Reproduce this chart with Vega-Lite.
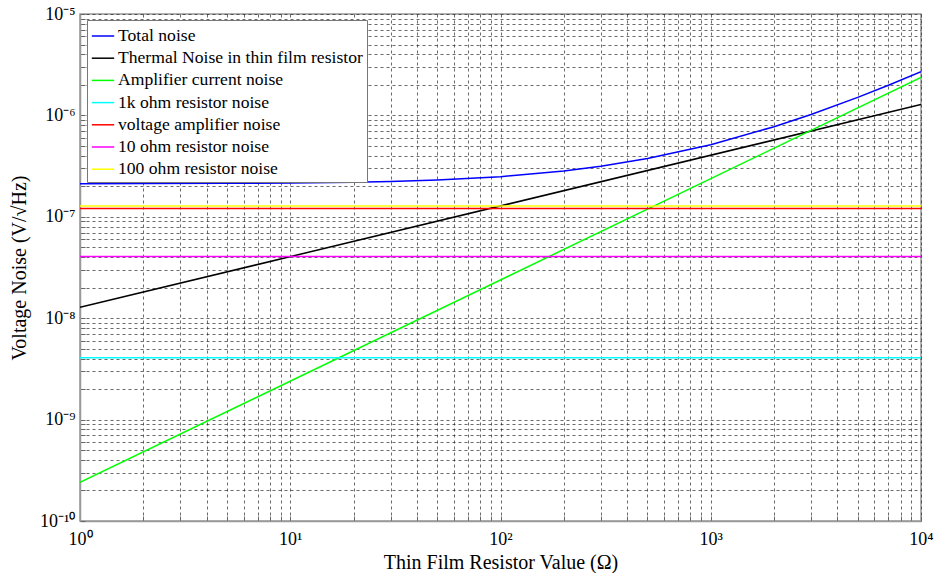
{
  "$schema": "https://vega.github.io/schema/vega-lite/v6.json",
  "width": 841,
  "height": 507,
  "autosize": {"type": "none"},
  "padding": {"left": 80, "top": 14, "right": 14, "bottom": 52},
  "background": "white",
  "config": {
    "font": "Liberation Serif",
    "view": {"stroke": "#999", "strokeWidth": 1.5}
  },
  "data": {
    "values": [
      {"series": "Total noise", "R": 1, "V": 2.123e-7},
      {"series": "Total noise", "R": 2, "V": 2.127e-7},
      {"series": "Total noise", "R": 5, "V": 2.138e-7},
      {"series": "Total noise", "R": 10, "V": 2.157e-7},
      {"series": "Total noise", "R": 20, "V": 2.195e-7},
      {"series": "Total noise", "R": 30, "V": 2.233e-7},
      {"series": "Total noise", "R": 50, "V": 2.307e-7},
      {"series": "Total noise", "R": 100, "V": 2.487e-7},
      {"series": "Total noise", "R": 200, "V": 2.827e-7},
      {"series": "Total noise", "R": 300, "V": 3.148e-7},
      {"series": "Total noise", "R": 500, "V": 3.753e-7},
      {"series": "Total noise", "R": 1000, "V": 5.147e-7},
      {"series": "Total noise", "R": 2000, "V": 7.729e-7},
      {"series": "Total noise", "R": 3000, "V": 1.021e-6},
      {"series": "Total noise", "R": 5000, "V": 1.506e-6},
      {"series": "Total noise", "R": 7000, "V": 1.986e-6},
      {"series": "Total noise", "R": 10000, "V": 2.702e-6},
      {"series": "Thermal Noise in thin film resistor", "R": 1, "V": 1.28e-8},
      {"series": "Thermal Noise in thin film resistor", "R": 10000, "V": 1.28e-6},
      {"series": "Amplifier current noise", "R": 1, "V": 2.4e-10},
      {"series": "Amplifier current noise", "R": 10000, "V": 2.37e-6},
      {"series": "1k ohm resistor noise", "R": 1, "V": 4.07e-9},
      {"series": "1k ohm resistor noise", "R": 10000, "V": 4.07e-9},
      {"series": "voltage amplifier noise", "R": 1, "V": 1.21e-7},
      {"series": "voltage amplifier noise", "R": 10000, "V": 1.21e-7},
      {"series": "10 ohm resistor noise", "R": 1, "V": 4.05e-8},
      {"series": "10 ohm resistor noise", "R": 10000, "V": 4.05e-8},
      {"series": "100 ohm resistor noise", "R": 1, "V": 1.28e-7},
      {"series": "100 ohm resistor noise", "R": 10000, "V": 1.28e-7}
    ]
  },
  "mark": {"type": "line", "strokeWidth": 1.5, "clip": true},
  "encoding": {
    "x": {
      "field": "R",
      "type": "quantitative",
      "scale": {"type": "log", "domain": [1, 10000], "nice": false},
      "axis": {
        "title": "Thin Film Resistor Value (Ω)",
        "titleFont": "Liberation Serif",
        "titleFontSize": 20,
        "titleFontWeight": "normal",
        "titleColor": "black",
        "titlePadding": 4,
        "values": [1,2,3,4,5,6,7,8,9,10,20,30,40,50,60,70,80,90,100,200,300,400,500,600,700,800,900,1000,2000,3000,4000,5000,6000,7000,8000,9000,10000],
        "labelExpr": "abs(log(datum.value)/LN10 - round(log(datum.value)/LN10)) < 0.001 ? ['10⁰','10¹','10²','10³','10⁴'][round(log(datum.value)/LN10)] : ''",
        "labelFont": "Liberation Serif",
        "labelFontSize": 18,
        "labelColor": "black",
        "labelPadding": 14,
        "labelOverlap": false,
        "labelFlush": false,
        "grid": true,
        "gridColor": "#222",
        "gridOpacity": 0.85,
        "gridDash": [3, 3],
        "gridWidth": 0.8,
        "ticks": true,
        "tickSize": -5,
        "tickColor": "#666",
        "domainColor": "#999",
        "domainWidth": 1.5
      }
    },
    "y": {
      "field": "V",
      "type": "quantitative",
      "scale": {"type": "log", "domain": [1e-10, 1e-5], "nice": false},
      "axis": {
        "title": "Voltage Noise (V/√Hz)",
        "titleFont": "Liberation Serif",
        "titleFontSize": 20,
        "titleFontWeight": "normal",
        "titleColor": "black",
        "titlePadding": 10,
        "values": [1e-10,2e-10,3e-10,4e-10,5e-10,6e-10,7e-10,8e-10,9e-10,1e-9,2e-9,3e-9,4e-9,5e-9,6e-9,7e-9,8e-9,9e-9,1e-8,2e-8,3e-8,4e-8,5e-8,6e-8,7e-8,8e-8,9e-8,1e-7,2e-7,3e-7,4e-7,5e-7,6e-7,7e-7,8e-7,9e-7,1e-6,2e-6,3e-6,4e-6,5e-6,6e-6,7e-6,8e-6,9e-6,1e-5],
        "labelExpr": "abs(log(datum.value)/LN10 - round(log(datum.value)/LN10)) < 0.001 ? ['10⁻¹⁰','10⁻⁹','10⁻⁸','10⁻⁷','10⁻⁶','10⁻⁵'][round(log(datum.value)/LN10) + 10] : ''",
        "labelFont": "Liberation Serif",
        "labelFontSize": 18,
        "labelColor": "black",
        "labelPadding": 10,
        "labelOverlap": false,
        "labelFlush": false,
        "grid": true,
        "gridColor": "#222",
        "gridOpacity": 0.85,
        "gridDash": [3, 3],
        "gridWidth": 0.8,
        "ticks": true,
        "tickSize": -5,
        "tickColor": "#666",
        "domainColor": "#999",
        "domainWidth": 1.5
      }
    },
    "color": {
      "field": "series",
      "type": "nominal",
      "scale": {
        "domain": ["Total noise", "Thermal Noise in thin film resistor", "Amplifier current noise", "1k ohm resistor noise", "voltage amplifier noise", "10 ohm resistor noise", "100 ohm resistor noise"],
        "range": ["#0000ff", "#000000", "#00ff00", "#00ffff", "#ff0000", "#ff00ff", "#ffff00"]
      },
      "legend": {
        "title": null,
        "orient": "none",
        "legendX": 7,
        "legendY": 6,
        "direction": "vertical",
        "fillColor": "white",
        "strokeColor": "#777",
        "padding": 4,
        "symbolType": "stroke",
        "symbolSize": 500,
        "symbolStrokeWidth": 1.5,
        "labelFont": "Liberation Serif",
        "labelFontSize": 17.6,
        "labelColor": "black",
        "labelOffset": 3,
        "rowPadding": 1.2,
        "labelLimit": 400
      }
    }
  }
}
